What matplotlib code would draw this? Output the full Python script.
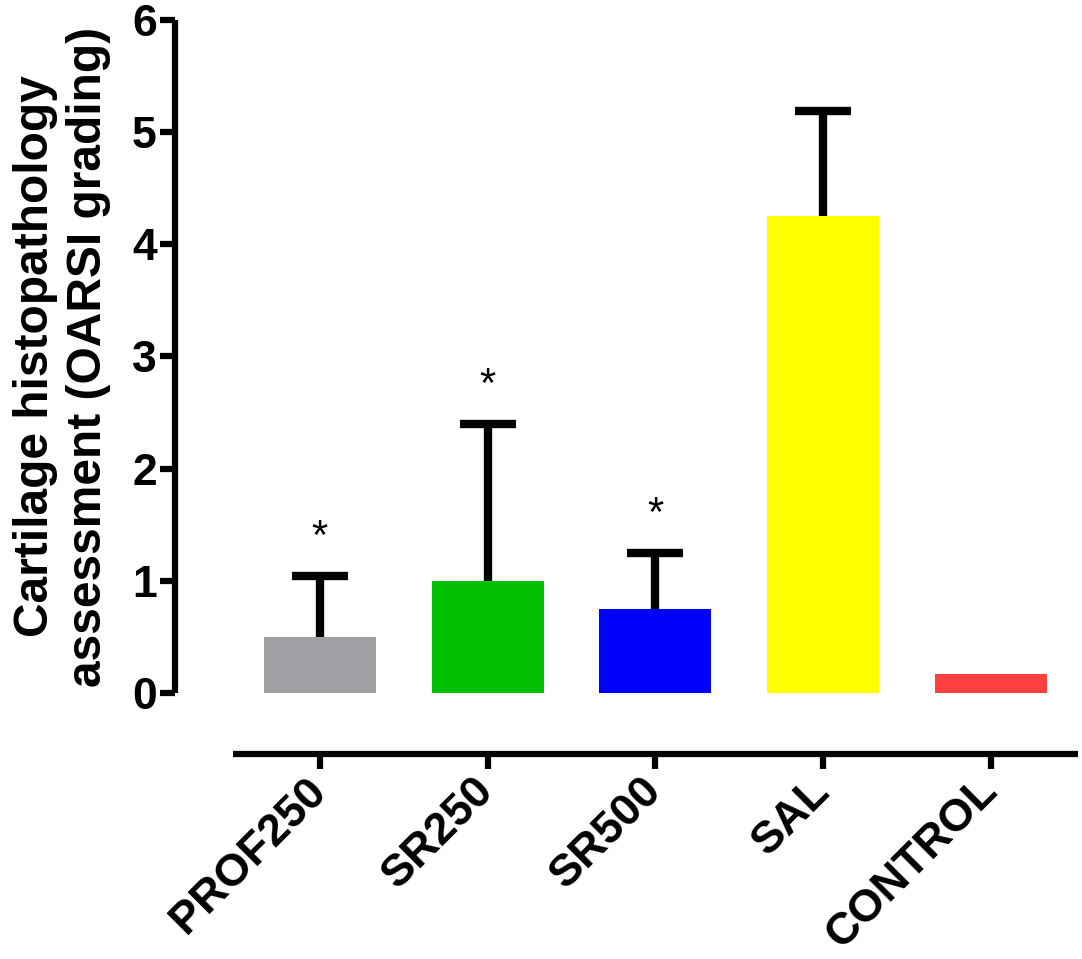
import numpy as np
import matplotlib
matplotlib.use('Agg')
import matplotlib.pyplot as plt

# Data
groups = ['PROF250', 'SR250', 'SR500', 'SAL', 'CONTROL']
means = [0.5, 1.0, 0.75, 4.25, 0.167]
errors = [0.54, 1.40, 0.50, 0.94, 0.0]
significant = [True, True, True, False, False]
colors = ['#A09FA4', '#00BF00', '#0000FF', '#FFFF00', '#FF4040']

plt.rcParams['font.family'] = ['Liberation Sans', 'DejaVu Sans']

fig = plt.figure(figsize=(10.82, 9.59), dpi=100)
ax = fig.add_axes([0.1617, 0.2138, 0.8346, 0.7653])

x = np.arange(len(groups))
means = np.array(means)
errors = np.array(errors)

ax.bar(x, means, width=0.668, color=colors, zorder=2)

# Upper-only error bars (Prism style)
has_err = errors > 0
tops = means + errors
ax.vlines(x[has_err], means[has_err], tops[has_err], color='black', lw=6, zorder=3)
ax.hlines(tops[has_err], x[has_err] - 0.167, x[has_err] + 0.167, color='black', lw=6, zorder=3)

# Significance stars
for xi, t, sig in zip(x, tops, significant):
    if sig:
        ax.text(xi, t + 0.24, '*', ha='center', va='baseline', fontsize=30, color='black')

ax.set_xlim(-0.864, 4.519)
ax.set_ylim(-0.544, 6.0)

for s in ['top', 'right']:
    ax.spines[s].set_visible(False)
ax.spines['left'].set_bounds(0, 6)
ax.spines['bottom'].set_bounds(-0.519, 4.519)
for s in ['left', 'bottom']:
    ax.spines[s].set_linewidth(4.5)
    ax.spines[s].set_capstyle('butt')

ax.set_yticks(range(0, 7))
ax.set_yticklabels([str(v) for v in range(0, 7)], fontsize=32, fontweight='bold')
ax.set_xticks(x)
ax.set_xticklabels(groups, fontsize=32.5, fontweight='bold', rotation=45,
                   ha='right', va='center', rotation_mode='anchor')
ax.tick_params(axis='y', length=11, width=4.5, pad=2)
ax.tick_params(axis='x', length=11, width=4.5, pad=11)

ax.text(-0.125, 3, 'Cartilage histopathology\nassessment (OARSI grading)',
        transform=ax.get_yaxis_transform(), rotation=90, ha='center', va='center',
        multialignment='center', fontsize=34.5, fontweight='bold', linespacing=1.22)

fig.savefig('out.png', dpi=100)
